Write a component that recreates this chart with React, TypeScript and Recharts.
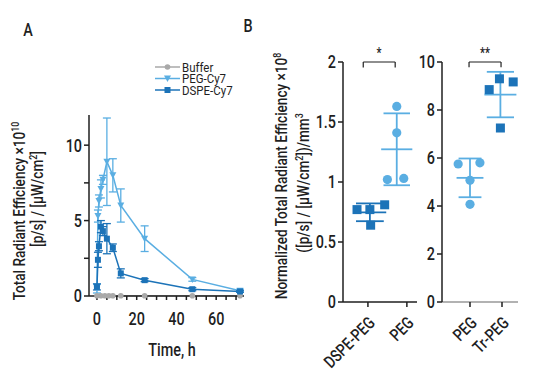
import React from "react";
import {
  ComposedChart,
  Line,
  Scatter,
  XAxis,
  YAxis,
  ErrorBar,
  ReferenceLine,
} from "recharts";

const FONT = "Roboto, 'DejaVu Sans', sans-serif";
const LIGHT = "#5aaee2";
const DARK = "#1c73b8";
const GREY = "#a9a9a9";
const INK = "#1f1f1f";
const SX = 0.8; // horizontal squeeze to mimic a condensed face

// panel A: time course
const pegTimes = [0, 0.5, 1, 2, 3, 5, 8, 12, 24, 48, 72];
const pegValues = [0.5, 5.3, 6.3, 7.1, 7.7, 8.9, 8.0, 6.0, 3.8, 1.1, 0.35];
const pegErrors = [0.3, 0.4, 0.4, 0.6, 0.3, 2.9, 1.1, 1.1, 0.85, 0.12, 0.1];

const dspeTimes = [0, 0.5, 1, 2, 3, 5, 8, 12, 24, 48, 72];
const dspeValues = [0.6, 2.4, 3.3, 4.6, 4.3, 3.8, 3.2, 1.5, 1.05, 0.45, 0.3];
const dspeErrors = [0.2, 0.5, 0.3, 0.4, 0.3, 1.0, 0.25, 0.3, 0.1, 0.1, 0.05];

const bufferTimes = [0, 2, 4, 6, 8, 12, 24, 48, 72];
const bufferValues = [0.02, 0.02, 0.02, 0.02, 0.02, 0.02, 0.02, 0.02, 0.02];

const timeTicks = [0, 5, 10, 15, 20, 25, 30, 35, 40, 45, 50, 55, 60, 65, 70];
const effTicks = [0, 2.5, 5, 7.5, 10];

// panel B left
const leftCats = ["DSPE-PEG", "PEG"];
const dspePegValues = [0.77, 0.77, 0.64, 0.81];
const dspePegJitter = [-0.33, 0.0, 0.02, 0.38];
const pegLeftValues = [1.63, 1.41, 1.02, 1.03];
const pegLeftJitter = [0.0, 0.0, -0.24, 0.18];
const leftCenters = [1.05, 1.74];
const leftTicks = [0, 0.5, 1, 1.5, 2];

// panel B right
const rightCats = ["PEG", "Tr-PEG"];
const pegRightValues = [5.75, 5.8, 5.07, 4.07];
const pegRightJitter = [-0.37, 0.31, 0.0, 0.0];
const trPegValues = [8.85, 9.3, 9.17, 7.25];
const trPegJitter = [-0.35, -0.03, 0.4, 0.0];
const rightCenters = [1.0, 1.95];
const rightTicks = [0, 2, 4, 6, 8, 10];

const series = (ts: number[], vs: number[], es?: number[]) =>
  ts.map((t, i) => ({ t, v: vs[i], e: es ? es[i] : 0 }));

const points = (center: number, jit: number[], vs: number[]) =>
  vs.map((v, i) => ({ x: center + jit[i], y: v }));

const stats = (vs: number[]) => {
  const m = vs.reduce((a, b) => a + b, 0) / vs.length;
  const sd = Math.sqrt(vs.reduce((a, b) => a + (b - m) ** 2, 0) / (vs.length - 1));
  return { m, sd };
};

const Tri = ({ cx, cy, color }: any) => (
  <path d={`M${cx - 3.5},${cy - 3} L${cx + 3.5},${cy - 3} L${cx},${cy + 3.5} Z`} fill={color} />
);
const Sq = ({ cx, cy, color, s = 6 }: any) => (
  <rect x={cx - s / 2} y={cy - s / 2} width={s} height={s} fill={color} />
);
const Dot = ({ cx, cy, color, r = 2.6 }: any) => <circle cx={cx} cy={cy} r={r} fill={color} />;

// condensed text helper
const NText = ({ x, y, rot = 0, size = 16, anchor = "start", sx = SX, children, dy, weight = 500 }: any) => (
  <text
    transform={`translate(${x},${y}) rotate(${rot}) scale(${sx},1)`}
    textAnchor={anchor}
    fontSize={size}
    fontFamily={FONT}
    fontWeight={weight}
    fill={INK}
    dy={dy}
  >
    {children}
  </text>
);

const yTick = (fmt: (v: number) => string) => (p: any) => (
  <NText x={p.x} y={p.y} anchor="end" size={18} dy="0.36em">
    {fmt(p.payload.value)}
  </NText>
);
const xNumTick = (fmt: (v: number) => string) => (p: any) => (
  <NText x={p.x} y={p.y + 23} anchor="middle" size={18}>
    {fmt(p.payload.value)}
  </NText>
);
const catTick = (names: string[]) => (p: any) => {
  const label = names[Math.round(p.payload.value) - 1] ?? "";
  return (
    <NText x={p.x + 8} y={p.y + 15} rot={-45} anchor="end" size={17}>
      {label}
    </NText>
  );
};

const axisLine = { stroke: INK, strokeWidth: 1.5 };

const meanSdLines = (vs: number[], c: number, hw: number, color: string, key: string) => {
  const { m, sd } = stats(vs);
  const segs = [
    [{ x: c - hw, y: m }, { x: c + hw, y: m }],
    [{ x: c - hw * 0.85, y: m + sd }, { x: c + hw * 0.85, y: m + sd }],
    [{ x: c - hw * 0.85, y: m - sd }, { x: c + hw * 0.85, y: m - sd }],
    [{ x: c, y: m - sd }, { x: c, y: m + sd }],
  ];
  return segs.map((s, i) => (
    <ReferenceLine key={`${key}-${i}`} segment={s} stroke={color} strokeWidth={1.8} ifOverflow="visible" />
  ));
};

const bracket = (x1: number, x2: number, y: number, drop: number, key: string) =>
  [
    [{ x: x1, y }, { x: x2, y }],
    [{ x: x1, y }, { x: x1, y: y - drop }],
    [{ x: x2, y }, { x: x2, y: y - drop }],
  ].map((s, i) => (
    <ReferenceLine key={`${key}-${i}`} segment={s} stroke={INK} strokeWidth={1.2} ifOverflow="visible" />
  ));

function PanelA() {
  const peg = series(pegTimes, pegValues, pegErrors);
  const dspe = series(dspeTimes, dspeValues, dspeErrors);
  const buf = series(bufferTimes, bufferValues);
  return (
    <ComposedChart width={260} height={340} margin={{ top: 115, right: 16, bottom: 14, left: 59 }}>
      <XAxis
        type="number"
        dataKey="t"
        domain={[-4, 74]}
        ticks={timeTicks}
        interval={0}
        tickSize={4}
        tick={xNumTick((v) => (v % 20 === 0 ? String(v) : ""))}
        height={30}
        axisLine={axisLine}
        tickLine={axisLine}
      />
      <YAxis
        type="number"
        domain={[0, 12]}
        ticks={effTicks}
        interval={0}
        tickSize={5}
        tick={yTick((v) => (v % 5 === 0 ? String(v) : ""))}
        width={30}
        axisLine={axisLine}
        tickLine={axisLine}
      />
      <Line
        data={buf}
        dataKey="v"
        stroke={GREY}
        strokeWidth={1.5}
        isAnimationActive={false}
        dot={(p: any) => <Dot key={`b${p.index}`} cx={p.cx} cy={p.cy} color={GREY} r={2.8} />}
      />
      <Line
        data={peg}
        dataKey="v"
        stroke={LIGHT}
        strokeWidth={1.5}
        isAnimationActive={false}
        dot={(p: any) => <Tri key={`p${p.index}`} cx={p.cx} cy={p.cy} color={LIGHT} />}
      >
        <ErrorBar dataKey="e" width={4} stroke={LIGHT} strokeWidth={1.3} direction="y" />
      </Line>
      <Line
        data={dspe}
        dataKey="v"
        stroke={DARK}
        strokeWidth={1.5}
        isAnimationActive={false}
        dot={(p: any) => <Sq key={`d${p.index}`} cx={p.cx} cy={p.cy} color={DARK} s={6} />}
      >
        <ErrorBar dataKey="e" width={4} stroke={DARK} strokeWidth={1.3} direction="y" />
      </Line>
    </ComposedChart>
  );
}

function PanelBLeft() {
  const a = points(leftCenters[0], dspePegJitter, dspePegValues);
  const b = points(leftCenters[1], pegLeftJitter, pegLeftValues);
  return (
    <ComposedChart width={140} height={387} margin={{ top: 62, right: 13, bottom: 10, left: 13 }}>
      <XAxis
        type="number"
        dataKey="x"
        domain={[0.36, 2.26]}
        ticks={[1, 2]}
        interval={0}
        tickSize={5}
        tick={catTick(leftCats)}
        height={75}
        axisLine={axisLine}
        tickLine={axisLine}
      />
      <YAxis
        type="number"
        dataKey="y"
        domain={[0, 2]}
        ticks={leftTicks}
        interval={0}
        tickSize={5}
        tick={yTick((v) => String(v))}
        width={40}
        axisLine={axisLine}
        tickLine={axisLine}
      />
      {meanSdLines(dspePegValues, leftCenters[0], 0.42, DARK, "a")}
      {meanSdLines(pegLeftValues, leftCenters[1], 0.4, LIGHT, "b")}
      {bracket(0.88, 1.7, 2, 0.045, "s1")}
      <Scatter
        data={a}
        isAnimationActive={false}
        shape={(p: any) => <Sq cx={p.cx} cy={p.cy} color={DARK} s={9} />}
      />
      <Scatter
        data={b}
        isAnimationActive={false}
        shape={(p: any) => <Dot cx={p.cx} cy={p.cy} color={LIGHT} r={4.6} />}
      />
    </ComposedChart>
  );
}

function PanelBRight() {
  const a = points(rightCenters[0], pegRightJitter, pegRightValues);
  const b = points(rightCenters[1], trPegJitter, trPegValues);
  return (
    <ComposedChart width={132} height={387} margin={{ top: 62, right: 29, bottom: 10, left: 0 }}>
      <XAxis
        type="number"
        dataKey="x"
        domain={[0.125, 2.5]}
        ticks={[1, 2]}
        interval={0}
        tickSize={5}
        tick={catTick(rightCats)}
        height={75}
        axisLine={{ stroke: "#666", strokeWidth: 1.2 }}
        tickLine={axisLine}
      />
      <YAxis
        type="number"
        dataKey="y"
        domain={[0, 10]}
        ticks={rightTicks}
        interval={0}
        tickSize={5}
        tick={yTick((v) => String(v))}
        width={27}
        axisLine={axisLine}
        tickLine={axisLine}
      />
      {meanSdLines(pegRightValues, rightCenters[0], 0.42, LIGHT, "c")}
      {meanSdLines(trPegValues, rightCenters[1], 0.5, LIGHT, "d")}
      {bracket(0.97, 1.97, 10, 0.22, "s2")}
      <Scatter
        data={a}
        isAnimationActive={false}
        shape={(p: any) => <Dot cx={p.cx} cy={p.cy} color={LIGHT} r={4.6} />}
      />
      <Scatter
        data={b}
        isAnimationActive={false}
        shape={(p: any) => <Sq cx={p.cx} cy={p.cy} color={DARK} s={9} />}
      />
    </ComposedChart>
  );
}

const sup = (s: string) => (
  <tspan dy={-6} fontSize="65%">
    {s}
  </tspan>
);
const down = (s: string) => <tspan dy={6}>{s}</tspan>;

function Overlay() {
  const legend = [
    { name: "Buffer", color: GREY, mark: "dot" },
    { name: "PEG-Cy7", color: LIGHT, mark: "tri" },
    { name: "DSPE-Cy7", color: DARK, mark: "sq" },
  ];
  return (
    <svg width={547} height={387} style={{ position: "absolute", left: 0, top: 0, pointerEvents: "none" }}>
      <NText x={28} y={36} size={18} anchor="middle">A</NText>
      <NText x={248} y={32} size={18} anchor="middle">B</NText>

      {legend.map((l, i) => {
        const y = 67 + i * 11.5;
        return (
          <g key={l.name}>
            <line x1={155} x2={180} y1={y} y2={y} stroke={l.color} strokeWidth={1.5} />
            {l.mark === "dot" && <Dot cx={167.5} cy={y} color={l.color} r={2.8} />}
            {l.mark === "tri" && <Tri cx={167.5} cy={y} color={l.color} />}
            {l.mark === "sq" && <Sq cx={167.5} cy={y} color={l.color} s={6} />}
            <NText x={182} y={y + 4.5} size={13.5} weight={400} sx={0.85}>{l.name}</NText>
          </g>
        );
      })}

      <NText x={25} y={211} rot={-90} size={17} anchor="middle">
        Total Radiant Efficiency ×10{sup("10")}
      </NText>
      <NText x={43} y={199} rot={-90} size={17} anchor="middle">
        [p/s] / [μW/cm{sup("2")}{down("]")}
      </NText>
      <NText x={172} y={356} size={18} anchor="middle">Time, h</NText>

      <NText x={287} y={176} rot={-90} size={17} anchor="middle">
        Normalized Total Radiant Efficiency ×10{sup("8")}
      </NText>
      <NText x={309} y={183} rot={-90} size={17} anchor="middle">
        ([p/s] / [μW/cm{sup("2")}{down("])/mm")}{sup("3")}
      </NText>

      <NText x={379} y={58} size={14} anchor="middle">*</NText>
      <NText x={485} y={58} size={14} anchor="middle">**</NText>
    </svg>
  );
}

export default function App() {
  return (
    <div style={{ position: "absolute", left: 0, top: 0, width: 547, height: 387, background: "#fff", fontFamily: FONT }}>
      <div style={{ position: "absolute", left: 0, top: 0 }}>
        <PanelA />
      </div>
      <div style={{ position: "absolute", left: 290, top: 0 }}>
        <PanelBLeft />
      </div>
      <div style={{ position: "absolute", left: 415, top: 0 }}>
        <PanelBRight />
      </div>
      <Overlay />
    </div>
  );
}
